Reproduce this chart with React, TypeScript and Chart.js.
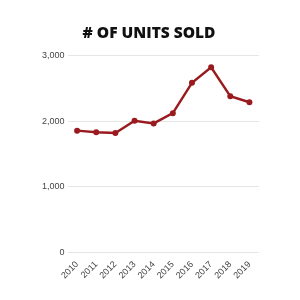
import React, { useEffect, useRef } from "react";
import { Chart, registerables } from "chart.js";

Chart.register(...registerables);

const years = ["2010", "2011", "2012", "2013", "2014", "2015", "2016", "2017", "2018", "2019"];
const unitsSold = [1855, 1830, 1818, 2005, 1965, 2122, 2585, 2822, 2380, 2288];
const titleText = "# OF UNITS SOLD";

export default function App() {
  const ref = useRef<HTMLCanvasElement | null>(null);
  useEffect(() => {
    document.body.style.margin = "0";
    const chart = new Chart(ref.current!, {
      type: "line",
      data: {
        labels: years,
        datasets: [
          {
            data: unitsSold,
            borderColor: "#9a1b1f",
            backgroundColor: "#9a1b1f",
            borderWidth: 2.4,
            pointRadius: 1.8,
            tension: 0,
          },
        ],
      },
      options: {
        animation: false,
        responsive: false,
        maintainAspectRatio: false,
        layout: { padding: { top: 24, left: 39, right: 41, bottom: 20 } },
        plugins: {
          legend: { display: false },
          tooltip: { enabled: false },
          title: {
            display: true,
            text: titleText,
            color: "#111",
            font: { family: "Open Sans", size: 15.5, weight: "800" },
            padding: { top: 0, bottom: 13 },
          },
        },
        scales: {
          x: {
            offset: true,
            grid: { display: false },
            border: { display: false },
            ticks: {
              color: "#444",
              font: { family: "Liberation Sans", size: 9 },
              autoSkip: false,
              maxRotation: 45,
              minRotation: 45,
              padding: -1,
            },
          },
          y: {
            min: 0,
            max: 3000,
            grid: { color: "#e6e6e6", drawTicks: false },
            border: { display: false },
            ticks: {
              stepSize: 1000,
              color: "#444",
              font: { family: "Liberation Sans", size: 9 },
              padding: 3,
              callback: (v: any) => Number(v).toLocaleString("en-US"),
            },
          },
        },
      },
    });
    return () => chart.destroy();
  }, []);
  return (
    <div style={{ width: 300, height: 300 }}>
      <canvas ref={ref} width={300} height={300} />
    </div>
  );
}
